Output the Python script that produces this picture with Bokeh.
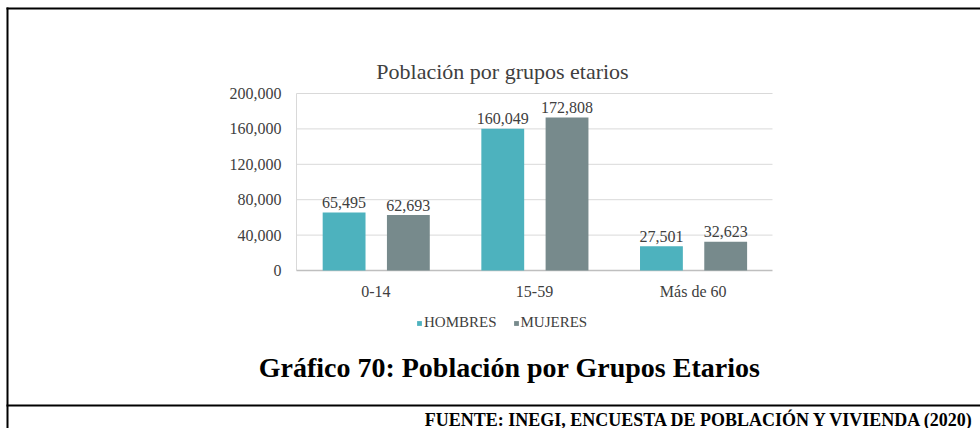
from bokeh.plotting import figure
from bokeh.models import (ColumnDataSource, Label, Legend, LegendItem, Range1d,
                          BoxAnnotation)
from bokeh.core.properties import value
from bokeh.embed import file_html
from bokeh.resources import INLINE

# ---- data ----
categories = ["0-14", "15-59", "Más de 60"]
hombres = [65495, 160049, 27501]
mujeres = [62693, 172808, 32623]
series_names = ["HOMBRES", "MUJERES"]
y_ticks = [0, 40000, 80000, 120000, 160000, 200000]
y_max = 200000
chart_title = "Población por grupos etarios"
caption = "Gráfico 70: Población por Grupos Etarios"
footer = "FUENTE: INEGI, ENCUESTA DE POBLACIÓN Y VIVIENDA (2020)"

# ---- layout / style ----
W, H = 980, 428
PL, PR, PT, PB = 296, 772, 93, 270      # plot-area box in page pixels
C_H = "#4DB2BE"
C_M = "#778A8C"
TXT = "#404040"
SERIF = "Liberation Serif"
BW = 0.27
OFF_H, OFF_M = -0.2, 0.205

n = len(categories)
xpp = n / (PR - PL)
ypp = y_max / (PB - PT)
x_range = Range1d(-PL * xpp, n + (W - PR) * xpp)
y_range = Range1d(-(H - PB) * ypp, y_max + PT * ypp)

p = figure(width=W, height=H, output_backend="svg", toolbar_location=None,
           x_range=x_range, y_range=y_range, x_axis_type=None, y_axis_type=None,
           min_border_left=0, min_border_right=0, min_border_top=0, min_border_bottom=0)
p.outline_line_color = None
p.xgrid.grid_line_color = None
p.ygrid.grid_line_color = None
p.background_fill_color = "white"
p.border_fill_color = "white"

centers = [i + 0.5 for i in range(n)]

# gridlines and axis lines (from tick values)
p.segment(x0=[0] * (len(y_ticks) - 1), x1=[n] * (len(y_ticks) - 1),
          y0=y_ticks[1:], y1=y_ticks[1:], line_color="#D9D9D9", line_width=1)
p.segment(x0=[0], x1=[0], y0=[0], y1=[y_max], line_color="#D9D9D9", line_width=1)
p.segment(x0=[0], x1=[n], y0=[0], y1=[0], line_color="#BFBFBF", line_width=1.5)

# y tick labels
p.text(x=[0] * len(y_ticks), y=y_ticks, text=[f"{t:,}" for t in y_ticks],
       x_offset=-15, text_align="right", text_baseline="middle",
       text_font=value(SERIF), text_font_size="16px", text_color=TXT)
# category labels
p.text(x=centers, y=[0] * n, text=categories, y_offset=21,
       text_align="center", text_baseline="middle",
       text_font=value(SERIF), text_font_size="16px", text_color=TXT)

src = ColumnDataSource(dict(
    xh=[c + OFF_H for c in centers], xm=[c + OFF_M for c in centers],
    h=hombres, m=mujeres,
    hl=[f"{v:,}" for v in hombres], ml=[f"{v:,}" for v in mujeres]))

rh = p.vbar(x="xh", top="h", width=BW, source=src, fill_color=C_H, line_color=None)
rm = p.vbar(x="xm", top="m", width=BW, source=src, fill_color=C_M, line_color=None)

for xc, yc, tc in (("xh", "h", "hl"), ("xm", "m", "ml")):
    p.text(x=xc, y=yc, text=tc, source=src, y_offset=-10,
           text_align="center", text_baseline="alphabetic",
           text_font=value(SERIF), text_font_size="16px", text_color=TXT)

# legend (location = bottom-left corner, pixels from the canvas bottom-left)
legend = Legend(items=[LegendItem(label=series_names[0], renderers=[rh]),
                       LegendItem(label=series_names[1], renderers=[rm])],
                orientation="horizontal", location=(416, H - 331),
                glyph_width=6, glyph_height=6, label_standoff=2, spacing=16,
                label_height=16, padding=0, margin=0,
                label_text_font=SERIF, label_text_font_size="15px",
                label_text_color=TXT, background_fill_alpha=0,
                border_line_alpha=0)
p.add_layout(legend, "center")

# texts (screen units: from canvas left / bottom)
p.add_layout(Label(x=502, y=H - 71, x_units="screen", y_units="screen", text=chart_title,
                   text_align="center", text_baseline="alphabetic", text_font=SERIF,
                   text_font_size="22px", text_color=TXT))
p.add_layout(Label(x=509, y=H - 367, x_units="screen", y_units="screen", text=caption,
                   text_align="center", text_baseline="alphabetic", text_font=SERIF,
                   text_font_size="28px", text_font_style="bold", text_color="black"))
p.add_layout(Label(x=975, y=H - 419, x_units="screen", y_units="screen", text=footer,
                   text_align="right", text_baseline="alphabetic", text_font=SERIF,
                   text_font_size="18px", text_font_style="bold", text_color="black"))

# frame lines (left, right, bottom, top in screen pixels from canvas bottom-left)
for l, r, b, t in ((6, W, H - 9, H - 7), (6, 8, 0, H - 7), (6, W, H - 406, H - 404)):
    p.add_layout(BoxAnnotation(left=l, right=r, bottom=b, top=t,
                               left_units="screen", right_units="screen",
                               bottom_units="screen", top_units="screen",
                               fill_color="black", fill_alpha=1, line_color=None))

open("out.html", "w").write(file_html(p, INLINE))
